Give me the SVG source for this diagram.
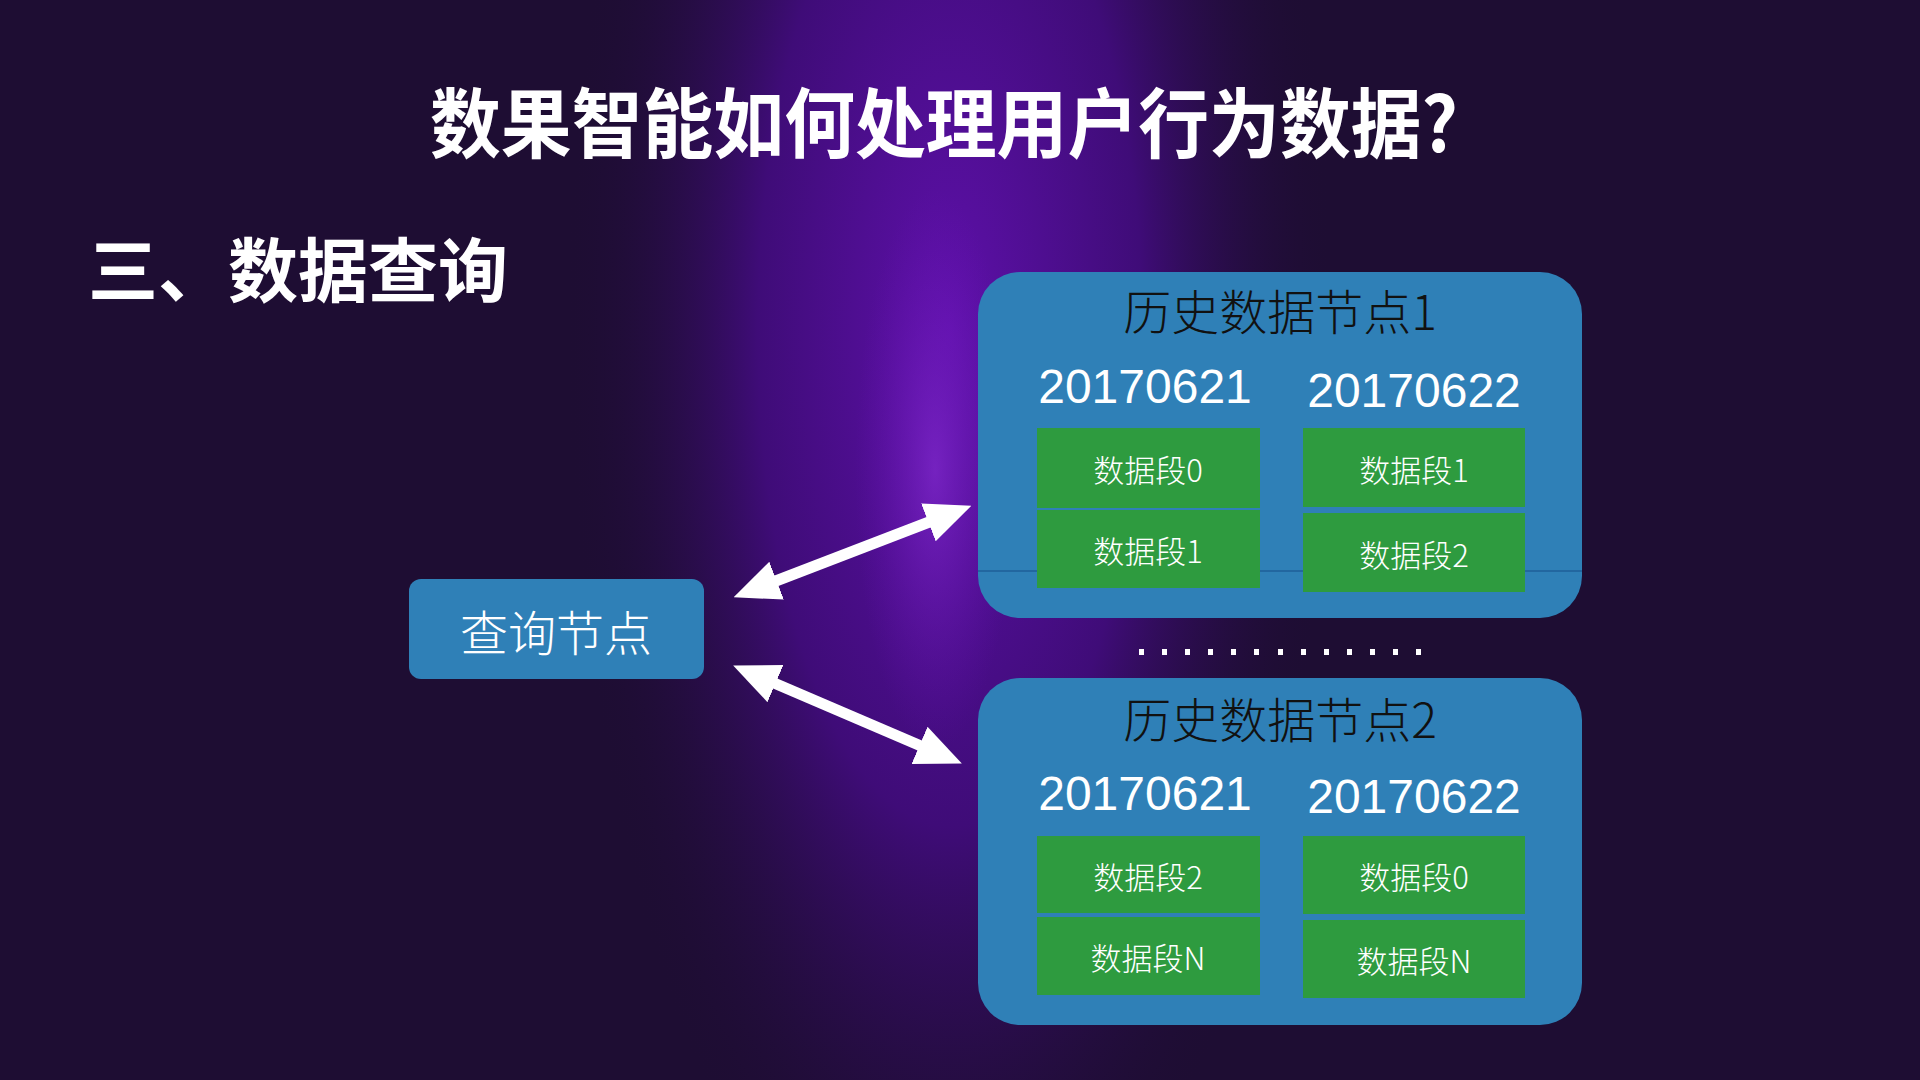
<svg xmlns="http://www.w3.org/2000/svg" width="1920" height="1080" viewBox="0 0 1920 1080">
  <defs>
    <radialGradient id="glow" cx="950" cy="330" r="620" gradientUnits="userSpaceOnUse" gradientTransform="translate(950 330) scale(0.62 1.6) translate(-950 -330)">
      <stop offset="0" stop-color="#5e10aa"/>
      <stop offset="0.5" stop-color="#3f0c78"/>
      <stop offset="1" stop-color="#1e0d33" stop-opacity="0"/>
    </radialGradient>
    <radialGradient id="spot" cx="935" cy="470" r="200" gradientUnits="userSpaceOnUse" gradientTransform="translate(935 470) scale(0.4 1.4) translate(-935 -470)">
      <stop offset="0" stop-color="#8a2fd8" stop-opacity="0.6"/>
      <stop offset="1" stop-color="#6a12b8" stop-opacity="0"/>
    </radialGradient>
    <marker id="head" viewBox="0 0 10 10" refX="2" refY="5" markerWidth="46" markerHeight="46" markerUnits="userSpaceOnUse" orient="auto-start-reverse">
      <path d="M0,0.6 L10,5 L0,9.4 Z" fill="#ffffff"/>
    </marker>
    <style>
      .hist { fill: #2f80b7; }
      .seg { fill: #2e9b3f; }
      .cjk { font-family: "Noto Sans CJK SC", "Noto Sans", sans-serif; }
      .title { fill: #ffffff; font-weight: 700; font-size: 76px; }
      .sub { fill: #ffffff; font-weight: 700; font-size: 70px; }
      .htitle { fill: #111111; font-size: 48px; font-weight: 300; }
      .date { fill: #ffffff; font-family: "Liberation Sans", Arial, sans-serif; font-size: 48px; }
      .segt { fill: #ffffff; font-size: 31px; font-weight: 300; }
      .qt { fill: #ffffff; font-size: 48px; font-weight: 300; }
      .conn { stroke: #ffffff; stroke-width: 11; fill: none; }
    </style>
  </defs>

  <rect x="0" y="0" width="1920" height="1080" fill="#1e0d33"/>
  <rect x="0" y="0" width="1920" height="1080" fill="url(#glow)"/>
  <rect x="0" y="0" width="1920" height="1080" fill="url(#spot)"/>

  <text class="cjk title" x="430" y="152" textLength="1028" lengthAdjust="spacingAndGlyphs">数果智能如何处理用户行为数据?</text>
  <text class="cjk sub" x="88" y="297">三、数据查询</text>

  <g id="query-node">
    <rect x="409" y="579" width="295" height="100" rx="12" class="hist"/>
    <text class="cjk qt" x="556" y="630" text-anchor="middle" dominant-baseline="central">查询节点</text>
  </g>

  <g id="history-node-1">
    <rect x="978" y="272" width="604" height="346" rx="42" class="hist"/>
    <line x1="978" y1="571" x2="1582" y2="571" stroke="#1f5f98" stroke-width="1.5"/>
    <text class="cjk htitle" x="1280" y="330" text-anchor="middle">历史数据节点1</text>
    <text class="date" x="1145" y="403" text-anchor="middle">20170621</text>
    <text class="date" x="1414" y="407" text-anchor="middle">20170622</text>
    <g id="n1-seg-a0">
      <rect x="1037" y="428" width="223" height="80" class="seg"/>
      <text class="cjk segt" x="1148" y="468" text-anchor="middle" dominant-baseline="central">数据段0</text>
    </g>
    <g id="n1-seg-a1">
      <rect x="1037" y="510" width="223" height="78" class="seg"/>
      <text class="cjk segt" x="1148" y="549" text-anchor="middle" dominant-baseline="central">数据段1</text>
    </g>
    <g id="n1-seg-b1">
      <rect x="1303" y="428" width="222" height="79" class="seg"/>
      <text class="cjk segt" x="1414" y="468" text-anchor="middle" dominant-baseline="central">数据段1</text>
    </g>
    <g id="n1-seg-b2">
      <rect x="1303" y="513" width="222" height="79" class="seg"/>
      <text class="cjk segt" x="1414" y="553" text-anchor="middle" dominant-baseline="central">数据段2</text>
    </g>
  </g>

  <g id="ellipsis" fill="#ffffff">
    <rect x="1139" y="649" width="5" height="6"/>
    <rect x="1162" y="649" width="5" height="6"/>
    <rect x="1185" y="649" width="5" height="6"/>
    <rect x="1208" y="649" width="5" height="6"/>
    <rect x="1231" y="649" width="5" height="6"/>
    <rect x="1254" y="649" width="5" height="6"/>
    <rect x="1278" y="649" width="5" height="6"/>
    <rect x="1301" y="649" width="5" height="6"/>
    <rect x="1324" y="649" width="5" height="6"/>
    <rect x="1347" y="649" width="5" height="6"/>
    <rect x="1370" y="649" width="5" height="6"/>
    <rect x="1393" y="649" width="5" height="6"/>
    <rect x="1416" y="649" width="5" height="6"/>
  </g>

  <g id="history-node-2">
    <rect x="978" y="678" width="604" height="347" rx="42" class="hist"/>
    <text class="cjk htitle" x="1280" y="738" text-anchor="middle">历史数据节点2</text>
    <text class="date" x="1145" y="810" text-anchor="middle">20170621</text>
    <text class="date" x="1414" y="813" text-anchor="middle">20170622</text>
    <g id="n2-seg-a2">
      <rect x="1037" y="836" width="223" height="77" class="seg"/>
      <text class="cjk segt" x="1148" y="875" text-anchor="middle" dominant-baseline="central">数据段2</text>
    </g>
    <g id="n2-seg-an">
      <rect x="1037" y="917" width="223" height="78" class="seg"/>
      <text class="cjk segt" x="1148" y="956" text-anchor="middle" dominant-baseline="central">数据段N</text>
    </g>
    <g id="n2-seg-b0">
      <rect x="1303" y="836" width="222" height="78" class="seg"/>
      <text class="cjk segt" x="1414" y="875" text-anchor="middle" dominant-baseline="central">数据段0</text>
    </g>
    <g id="n2-seg-bn">
      <rect x="1303" y="920" width="222" height="78" class="seg"/>
      <text class="cjk segt" x="1414" y="959" text-anchor="middle" dominant-baseline="central">数据段N</text>
    </g>
  </g>

  <g id="connectors">
    <line class="conn" x1="768" y1="584" x2="937" y2="519" marker-start="url(#head)" marker-end="url(#head)"/>
    <line class="conn" x1="767" y1="680" x2="928" y2="749" marker-start="url(#head)" marker-end="url(#head)"/>
  </g>
</svg>
